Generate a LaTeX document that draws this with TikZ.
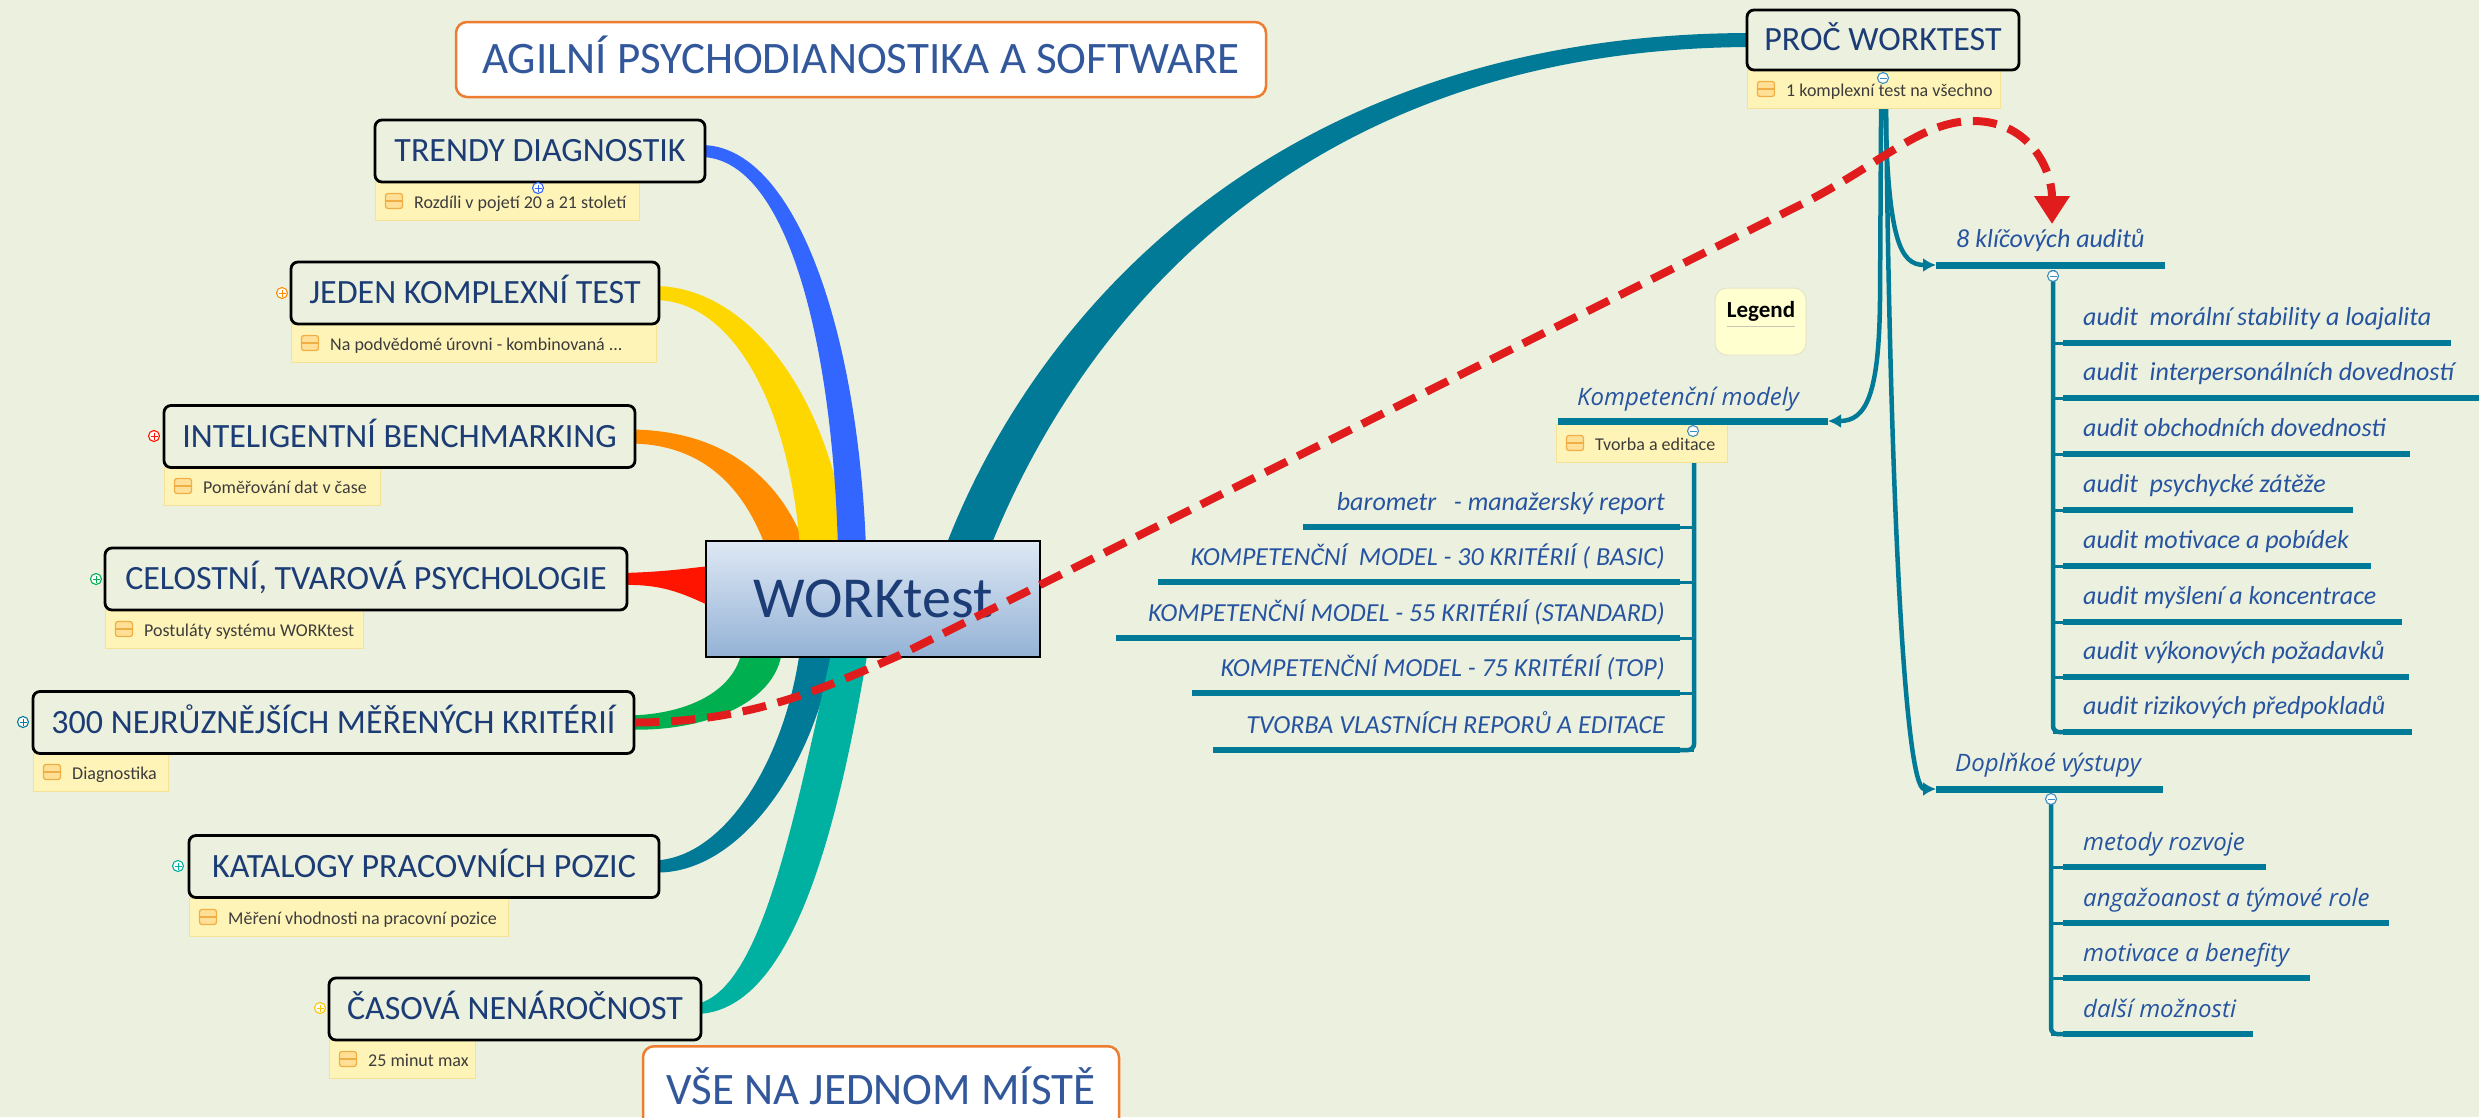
\documentclass[tikz,border=0pt]{standalone}
\usepackage{fontspec}
\setmainfont{Carlito}
\newfontfamily\widefont{Open Sans}
\usetikzlibrary{arrows.meta,calc}
\pgfdeclarelayer{bgl}
\pgfdeclarelayer{back}
\pgfsetlayers{bgl,back,main}
\definecolor{bg}{RGB}{236,240,223}
\definecolor{navy}{RGB}{28,60,118}
\definecolor{titleblue}{RGB}{50,88,155}
\definecolor{iblue}{RGB}{38,84,160}
\definecolor{notefill}{RGB}{255,244,184}
\definecolor{noteline}{RGB}{246,226,150}
\definecolor{iconfill}{RGB}{255,224,150}
\definecolor{iconline}{RGB}{240,175,70}
\definecolor{cteal}{RGB}{0,122,150}
\definecolor{cblue}{RGB}{51,102,255}
\definecolor{cyellow}{RGB}{255,215,0}
\definecolor{corange}{RGB}{255,140,0}
\definecolor{cred}{RGB}{255,20,0}
\definecolor{cgreen}{RGB}{0,176,80}
\definecolor{cteallight}{RGB}{0,176,160}
\definecolor{dashred}{RGB}{225,28,28}
\definecolor{titleorange}{RGB}{237,125,49}
\definecolor{legendfill}{RGB}{255,255,208}
\definecolor{legendline}{RGB}{228,228,200}
\definecolor{wtop}{RGB}{222,232,244}
\definecolor{wbot}{RGB}{148,178,214}
\definecolor{minusblue}{RGB}{60,140,190}
\definecolor{notetext}{RGB}{60,60,60}
\tikzset{
  mbox/.style={draw=black, line width=2.8pt, rounded corners=7pt, fill=bg, text=navy,
    font=\fontsize{34}{40}\selectfont, minimum height=62pt, text height=21pt, text depth=0pt, inner sep=0pt},
  nbox/.style={fill=notefill, draw=noteline, line width=1.2pt, anchor=north west, minimum height=38pt, inner sep=0pt},
  nicon/.style={draw=iconline, fill=iconfill, line width=1.3pt, rounded corners=2.5pt, minimum width=17pt,
    minimum height=15pt, inner sep=0pt,
    path picture={\draw[iconline, line width=1.3pt] (path picture bounding box.west) -- (path picture bounding box.east);}},
  ntext/.style={font=\fontsize{18}{20}\selectfont, text=notetext, inner sep=0pt},
  tbox/.style={draw=titleorange, line width=2.5pt, rounded corners=11pt, fill=white, text=titleblue,
    font=\fontsize{45}{50}\selectfont, text height=28pt, text depth=0pt, inner sep=0pt},
  plusc/.style={circle, draw=#1, fill=white, line width=1.1pt, minimum size=11pt, inner sep=0pt,
    path picture={\draw[#1, line width=1pt] (path picture bounding box.center) ++(-3.5pt,0pt) -- ++(7pt,0pt)
      (path picture bounding box.center) ++(0pt,-3.5pt) -- ++(0pt,7pt);}},
  minusc/.style={circle, draw=minusblue, fill=white, line width=1.1pt, minimum size=11pt, inner sep=0pt,
    path picture={\draw[minusblue, line width=1pt] (path picture bounding box.center) ++(-3.5pt,0pt) -- ++(7pt,0pt);}},
  itext/.style={font=\fontsize{26}{30}\selectfont\itshape, text=iblue, inner sep=0pt},
  wtext/.style={font=\widefont\fontsize{24}{28}\selectfont\itshape, text=iblue, inner sep=0pt},
  uline/.style={draw=cteal, line width=7pt},
  tline/.style={draw=cteal, line width=4.5pt},
  tip/.style={-{Latex[length=13pt,width=14pt]}}
}
\newcommand\mknote[5]{%
  \node[nbox, minimum width=#4pt] (#1) at (#2,#3) {};
  \node[nicon] (#1i) at ($(#1.north west)+(19,19)$) {};
  \node[ntext, anchor=base west] (#1t) at ($(#1.north west)+(39,26)$) {#5};}
\begin{document}
\begin{tikzpicture}[x=1pt,y=-1pt]
\path[use as bounding box] (0,0) rectangle (2479,1117);
\begin{pgfonlayer}{bgl}
\fill[bg] (0,0) rectangle (2479,1117);
\end{pgfonlayer}

% notes
\mknote{trendyn}{375}{182}{264}{Rozdíli v pojetí 20 a 21 století}
\mknote{jedenn}{291}{324}{365}{Na podvědomé úrovni - kombinovaná ...}
\mknote{inteln}{164}{467}{216}{Poměřování dat v čase}
\mknote{celostn}{105}{610}{258}{Postuláty systému WORKtest}
\mknote{kn}{33}{753}{135}{Diagnostika}
\mknote{kataln}{189}{898}{319}{Měření vhodnosti na pracovní pozice}
\mknote{casovan}{329}{1040}{146}{25 minut max}
\mknote{procn}{1747}{70}{253}{1 komplexní test na všechno}
\mknote{kompn}{1556}{424}{171}{Tvorba a editace}

% main boxes
\node[mbox, minimum width=330pt] (trendy) at (540,151) {TRENDY DIAGNOSTIK};
\node[mbox, minimum width=368pt] (jeden) at (475,293) {JEDEN KOMPLEXNÍ TEST};
\node[mbox, minimum width=471pt] (intel) at (399.5,436.5) {INTELIGENTNÍ BENCHMARKING};
\node[mbox, minimum width=522pt] (celost) at (366,579) {CELOSTNÍ, TVAROVÁ PSYCHOLOGIE};
\node[mbox, minimum width=601pt] (k300) at (333.5,722.5) {300 NEJRŮZNĚJŠÍCH MĚŘENÝCH KRITÉRIÍ};
\node[mbox, minimum width=470pt] (katal) at (424,866.5) {KATALOGY PRACOVNÍCH POZIC};
\node[mbox, minimum width=372pt] (casova) at (515,1009) {ČASOVÁ NENÁROČNOST};
\node[mbox, minimum width=272pt, minimum height=60pt] (proc) at (1883,40) {PROČ WORKTEST};

\node[draw=black, line width=2.5pt, top color=wtop, bottom color=wbot, minimum width=334pt,
  minimum height=116pt, text=navy, font=\fontsize{58}{64}\selectfont, text height=37pt,
  text depth=0pt, inner sep=0pt] (work) at (873,599) {WORKtest};

% titles
\node[tbox, minimum width=810pt, minimum height=75pt] (title) at (861,59.5) {AGILNÍ PSYCHODIANOSTIKA A SOFTWARE};
\node[tbox, minimum width=476pt, minimum height=95pt, anchor=north] (vse) at (881,1045) {};
\node[text=titleblue, font=\fontsize{45}{50}\selectfont, anchor=base, inner sep=0pt] (vset) at (881,1104) {VŠE NA JEDNOM MÍSTĚ};

% legend
\node[fill=legendfill, draw=legendline, line width=1pt, rounded corners=12pt, minimum width=91pt,
  minimum height=67pt, inner sep=0pt] (legend) at (1760.5,321.5) {};
\node[font=\bfseries\fontsize{23}{26}\selectfont, anchor=base, inner sep=0pt] (legendt) at (1761,317) {Legend};
\draw[legendline!70!gray, line width=1.2pt] ($(legend.west)+(12,5)$) -- ($(legend.east)+(-12,5)$);

% colored branches
\begin{pgfonlayer}{back}
\fill[corange] ($(intel.east)+(-6,-7)$) .. controls (715,430) and (778,470) .. (806,548) -- (766,548)
  .. controls (745,490) and (705,444) .. ($(intel.east)+(-6,7)$) -- cycle;
\fill[cyellow] ($(jeden.east)+(-6,-7)$) .. controls (750,286) and (832,400) .. (848,548) -- (800,548)
  .. controls (790,410) and (735,300) .. ($(jeden.east)+(-6,7)$) -- cycle;
\fill[cblue] ($(trendy.east)+(-6,-6)$) .. controls (795,144) and (858,330) .. (866,548) -- (838,548)
  .. controls (832,335) and (785,157) .. ($(trendy.east)+(-6,6)$) -- cycle;
\fill[cred] ($(celost.east)+(-6,-6)$) .. controls (665,572) and (690,568) .. (710,566) -- (710,606)
  .. controls (680,592) and (660,584) .. ($(celost.east)+(-6,6)$) -- cycle;
\fill[cgreen] ($(k300.east)+(-6,-7)$) .. controls (690,714) and (735,690) .. (742,650) -- (782,650)
  .. controls (777,705) and (700,732) .. ($(k300.east)+(-6,7)$) -- cycle;
\fill[cteal] ($(katal.east)+(-6,-6)$) .. controls (725,858) and (785,760) .. (800,650) -- (833,650)
  .. controls (815,765) and (740,875) .. ($(katal.east)+(-6,6)$) -- cycle;
\fill[cteallight] ($(casova.east)+(-6,-5)$) .. controls (760,990) and (792,830) .. (832,650) -- (868,650)
  .. controls (836,840) and (790,1012) .. ($(casova.east)+(-6,5)$) -- cycle;
\fill[cteal] (945,548) .. controls (1040,300) and (1290,33) .. ($(proc.west)+(6,-7)$)
  -- ($(proc.west)+(6,7)$) .. controls (1310,48) and (1085,310) .. (990,548) -- cycle;
% trunk lines from PROC WORKTEST
\coordinate (kmu) at (1828,421);
\coordinate (k8u) at (1936,265);
\coordinate (dpu) at (1936,789);
\draw[tline, tip] ($(procn.south)+(7,-4)$) -- (1880,300) .. controls (1879,395) and (1866,421) .. (kmu);
\draw[tline, tip] ($(procn.south)+(11,-4)$) .. controls (1888,240) and (1900,265) .. (k8u);
\draw[tline, tip] ($(procn.south)+(12,-4)$) .. controls (1890,500) and (1905,789) .. (dpu);
\end{pgfonlayer}

% Kompetencni modely
\node[wtext, anchor=base west] (kompt) at (1577,405) {Kompetenční modely};
\draw[uline] (1558,421) -- (kmu);
\draw[tline, rounded corners=6pt] (1694,463) -- (1694,750) -- (1678,750);
\foreach \yy/\xs/\lab [count=\i] in {527/1303/{barometr\ \ \ - manažerský report},
  582/1158/{KOMPETENČNÍ\ \ MODEL - 30 KRITÉRIÍ ( BASIC)},
  638/1116/{KOMPETENČNÍ MODEL - 55 KRITÉRIÍ (STANDARD)},
  693/1192/{KOMPETENČNÍ MODEL - 75 KRITÉRIÍ (TOP)},
  750/1213/{TVORBA VLASTNÍCH REPORŮ A EDITACE}}{
  \draw[uline, line width=6.5pt] (\xs,\yy) -- (1680,\yy);
  \draw[tline, line width=3pt] (1678,\yy) -- (1694,\yy);
  \node[itext, anchor=base east] (kc\i) at (1665,\yy-17) {\lab};
}

% 8 klicovych auditu
\node[itext, anchor=base west] (k8t) at (1956,247) {8 klíčových auditů};
\draw[uline] (k8u) -- (2165,265);
\draw[tline, rounded corners=6pt] (2053,270) -- (2053,732) -- (2066,732);
\foreach \yy/\xe/\lab [count=\i] in {343/2451/{audit\ \ morální stability a loajalita},
  398/2490/{audit\ \ interpersonálních dovedností},
  454/2410/{audit obchodních dovednosti},
  510/2353/{audit\ \ psychycké zátěže},
  566/2371/{audit motivace a pobídek},
  622/2402/{audit myšlení a koncentrace},
  677/2409/{audit výkonových požadavků},
  732/2412/{audit rizikových předpokladů}}{
  \draw[uline, line width=6.5pt] (2063,\yy) -- (\xe,\yy);
  \draw[tline, line width=3pt] (2053,\yy) -- (2066,\yy);
  \node[itext, anchor=base west] (au\i) at (2083,\yy-18) {\lab};
}

% Doplnkove vystupy
\node[wtext, anchor=base west] (dpt) at (1955,771) {Doplňkoé výstupy};
\draw[uline] (dpu) -- (2163,789);
\draw[tline, rounded corners=6pt] (2051,795) -- (2051,1034) -- (2066,1034);
\foreach \yy/\xe/\lab [count=\i] in {867/2266/{metody rozvoje},
  923/2389/{angažoanost a týmové role},
  978/2310/{motivace a benefity},
  1034/2253/{další možnosti}}{
  \draw[uline, line width=6.5pt] (2063,\yy) -- (\xe,\yy);
  \draw[tline, line width=3pt] (2051,\yy) -- (2066,\yy);
  \node[wtext, anchor=base west] (dp\i) at (2083,\yy-17) {\lab};
}

% plus / minus markers
\node[plusc=cblue] (pm1) at (538,188) {};
\node[plusc=corange] (pm2) at (282,293) {};
\node[plusc=cred] (pm3) at (154,436) {};
\node[plusc=cgreen] (pm4) at (96,579) {};
\node[plusc=cteal] (pm5) at (23,722) {};
\node[plusc=cteallight] (pm6) at (178,866) {};
\node[plusc=cyellow!80!orange] (pm7) at (320,1008) {};
\node[minusc] (mm1) at (1883,78) {};
\node[minusc] (mm2) at (1693,431) {};
\node[minusc] (mm3) at (2053,276) {};
\node[minusc] (mm4) at (2051,799) {};

% red dashed relation
\coordinate (rtip) at (2052,224);
\draw[dashred, line width=8pt, dash pattern=on 24pt off 12pt, -{Triangle[length=28pt,width=34pt]}]
  (k300.east) .. controls (750,722) and (820,690) .. (900,655) -- (1800,205)
  .. controls (1880,165) and (1920,121) .. (1973,121) .. controls (2030,121) and (2052,170) .. (rtip);
\end{tikzpicture}
\end{document}
